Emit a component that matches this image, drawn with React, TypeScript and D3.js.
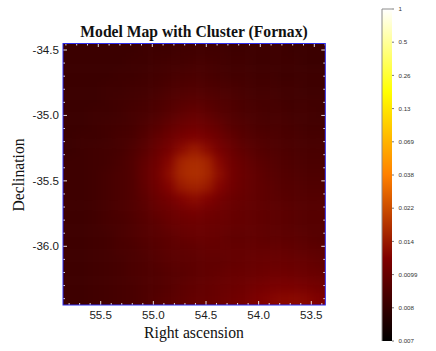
import React from "react";
import * as d3 from "d3";

// model flux x 1000, top row first, left column first
const fluxRows: number[][] = [
  [8.3, 8.3, 8.3, 8.3, 8.3, 8.3, 8.4, 8.4, 8.4, 8.5, 8.5, 8.5, 8.5, 8.4, 8.4, 8.4, 8.4, 8.4, 8.3, 8.3, 8.3],
  [8.3, 8.3, 8.3, 8.3, 8.3, 8.4, 8.4, 8.5, 8.6, 8.6, 8.7, 8.7, 8.6, 8.5, 8.5, 8.4, 8.4, 8.4, 8.4, 8.3, 8.3],
  [8.3, 8.3, 8.3, 8.3, 8.4, 8.4, 8.5, 8.6, 8.7, 8.8, 8.9, 8.8, 8.7, 8.6, 8.6, 8.5, 8.5, 8.4, 8.4, 8.4, 8.4],
  [8.3, 8.3, 8.3, 8.4, 8.4, 8.5, 8.6, 8.7, 8.9, 9.0, 9.1, 9.0, 8.9, 8.8, 8.7, 8.6, 8.6, 8.5, 8.5, 8.4, 8.4],
  [8.3, 8.3, 8.3, 8.4, 8.5, 8.6, 8.7, 8.9, 9.1, 9.3, 9.4, 9.3, 9.1, 9.0, 8.8, 8.7, 8.7, 8.6, 8.5, 8.5, 8.5],
  [8.3, 8.3, 8.4, 8.4, 8.5, 8.7, 8.8, 9.0, 9.3, 9.6, 9.8, 9.6, 9.3, 9.1, 8.9, 8.8, 8.7, 8.7, 8.6, 8.6, 8.5],
  [8.3, 8.3, 8.4, 8.5, 8.6, 8.7, 9.0, 9.3, 9.7, 10.2, 10.6, 10.2, 9.7, 9.3, 9.1, 8.9, 8.8, 8.8, 8.7, 8.6, 8.6],
  [8.3, 8.4, 8.4, 8.5, 8.7, 8.8, 9.2, 9.7, 10.4, 11.2, 11.8, 11.2, 10.4, 9.7, 9.3, 9.1, 9.0, 8.9, 8.8, 8.7, 8.7],
  [8.3, 8.4, 8.5, 8.6, 8.7, 9.0, 9.4, 10.1, 11.2, 12.8, 14.2, 12.8, 11.2, 10.2, 9.6, 9.3, 9.1, 9.0, 8.9, 8.8, 8.8],
  [8.4, 8.4, 8.5, 8.6, 8.8, 9.1, 9.7, 10.6, 12.4, 15.8, 17.0, 15.8, 12.4, 10.7, 9.9, 9.5, 9.3, 9.1, 9.0, 8.9, 8.9],
  [8.4, 8.4, 8.5, 8.7, 8.9, 9.1, 9.8, 10.9, 13.0, 16.2, 17.4, 16.2, 13.0, 11.0, 10.1, 9.7, 9.4, 9.2, 9.1, 9.0, 9.0],
  [8.4, 8.4, 8.5, 8.7, 8.9, 9.1, 9.7, 10.7, 12.2, 14.2, 15.5, 14.2, 12.2, 10.8, 10.0, 9.7, 9.5, 9.3, 9.2, 9.1, 9.1],
  [8.4, 8.4, 8.5, 8.7, 8.9, 9.1, 9.5, 10.2, 11.0, 12.0, 12.8, 12.0, 11.0, 10.3, 9.9, 9.7, 9.5, 9.4, 9.3, 9.2, 9.2],
  [8.4, 8.4, 8.5, 8.7, 8.9, 9.1, 9.4, 9.8, 10.3, 10.8, 11.2, 10.8, 10.4, 10.0, 9.8, 9.7, 9.6, 9.5, 9.4, 9.3, 9.3],
  [8.4, 8.4, 8.5, 8.7, 8.8, 9.0, 9.3, 9.5, 9.9, 10.2, 10.4, 10.3, 10.1, 9.9, 9.8, 9.7, 9.6, 9.5, 9.4, 9.3, 9.3],
  [8.4, 8.4, 8.5, 8.6, 8.8, 9.0, 9.2, 9.4, 9.6, 9.8, 10.0, 10.0, 9.9, 9.7, 9.7, 9.7, 9.6, 9.6, 9.5, 9.4, 9.3],
  [8.4, 8.4, 8.5, 8.6, 8.8, 8.9, 9.1, 9.3, 9.5, 9.6, 9.7, 9.8, 9.8, 9.8, 9.8, 9.8, 9.8, 9.8, 9.7, 9.6, 9.5],
  [8.4, 8.4, 8.5, 8.6, 8.7, 8.9, 9.0, 9.2, 9.4, 9.5, 9.6, 9.7, 9.7, 9.8, 9.9, 10.0, 10.1, 10.1, 10.0, 9.9, 9.7],
  [8.4, 8.4, 8.5, 8.6, 8.7, 8.9, 9.0, 9.1, 9.3, 9.4, 9.6, 9.7, 9.8, 10.0, 10.1, 10.3, 10.5, 10.6, 10.5, 10.3, 10.1],
  [8.4, 8.4, 8.5, 8.6, 8.7, 8.8, 9.0, 9.1, 9.3, 9.5, 9.7, 9.8, 10.0, 10.3, 10.6, 11.0, 11.3, 11.5, 11.5, 11.2, 10.8],
  [8.4, 8.4, 8.5, 8.6, 8.7, 8.8, 9.0, 9.2, 9.4, 9.6, 9.8, 9.9, 10.2, 10.6, 11.0, 11.6, 12.2, 12.6, 12.7, 12.4, 11.9],
];

const raMajor = [55.5, 55.0, 54.5, 54.0, 53.5];
const raMinor = [55.8, 55.7, 55.6, 55.4, 55.3, 55.2, 55.1, 54.9, 54.8, 54.7, 54.6, 54.4, 54.3, 54.2, 54.1, 53.9, 53.8, 53.7, 53.6, 53.4];
const decMajor = [-34.5, -35.0, -35.5, -36.0];
const decMinor = [-34.6, -34.7, -34.8, -34.9, -35.1, -35.2, -35.3, -35.4, -35.6, -35.7, -35.8, -35.9, -36.1, -36.2, -36.3, -36.4];

const barValues = [0.007, 0.008, 0.0099, 0.014, 0.022, 0.038, 0.069, 0.13, 0.26, 0.5, 1];
const barLabels = ["0.007", "0.008", "0.0099", "0.014", "0.022", "0.038", "0.069", "0.13", "0.26", "0.5", "1"];
const heatStops = [0, 0.25, 0.5, 0.75, 1];
const heatColors = ["#000000", "#800000", "#ff8000", "#ffff00", "#ffffff"];

const W = 436;
const H = 351;
const plot = { left: 63, right: 325.3, top: 43.5, bottom: 305 };
const bar = { left: 382, right: 392, top: 9, bottom: 341 };

const serif = "'Liberation Serif', serif";
const sans = "'Liberation Sans', sans-serif";

export default function App() {
  // the sky grid is slightly curved, top and bottom edge ticks do not line up
  const xBottom = d3.scaleLinear().domain([55.5, 53.5]).range([100.7, 311.3]);
  const xTop = d3.scaleLinear().domain([55.5, 53.5]).range([98.3, 314.3]);
  const y = d3.scaleLinear().domain([-34.5, -36.0]).range([50, 246.3]);

  const nCols = fluxRows[0].length;
  const nRows = fluxRows.length;
  const colScale = d3.scaleBand<number>().domain(d3.range(nCols)).range([plot.left, plot.right]);
  const rowScale = d3.scaleBand<number>().domain(d3.range(nRows)).range([plot.top, plot.bottom]);

  const position = d3
    .scaleLinear()
    .domain(barValues)
    .range(barValues.map((_, i) => i / (barValues.length - 1)))
    .clamp(true);
  const heat = d3.scaleLinear<string>().domain(heatStops).range(heatColors);
  const barY = d3.scaleLinear().domain([0, 1]).range([bar.bottom, bar.top]);

  const pad = 30; // edge cells run past the frame so the blur does not fade there

  return (
    <svg width={W} height={H} style={{ position: "absolute", left: 0, top: 0, background: "#fff" }}>
      <defs>
        <clipPath id="plot-clip">
          <rect x={plot.left} y={plot.top} width={plot.right - plot.left} height={plot.bottom - plot.top} />
        </clipPath>
        <filter id="smooth" x="-20%" y="-20%" width="140%" height="140%" colorInterpolationFilters="sRGB">
          <feGaussianBlur stdDeviation="5" />
        </filter>
        <linearGradient id="heat-bar" x1="0" y1="1" x2="0" y2="0">
          {heatStops.map((s, i) => (
            <stop key={s} offset={s} stopColor={heatColors[i]} />
          ))}
        </linearGradient>
      </defs>

      <g clipPath="url(#plot-clip)">
        <g filter="url(#smooth)">
          {fluxRows.map((row, r) =>
            row.map((v, c) => {
              const x0 = colScale(c)! - (c === 0 ? pad : 0);
              const x1 = colScale(c)! + colScale.bandwidth() + (c === nCols - 1 ? pad : 0.5);
              const y0 = rowScale(r)! - (r === 0 ? pad : 0);
              const y1 = rowScale(r)! + rowScale.bandwidth() + (r === nRows - 1 ? pad : 0.5);
              return <rect key={`${r}-${c}`} x={x0} y={y0} width={x1 - x0} height={y1 - y0} fill={heat(position(v / 1000))} />;
            })
          )}
        </g>
      </g>

      {/* ticks on all four edges */}
      <g stroke="#fff" strokeOpacity={0.85} strokeWidth={1}>
        {raMajor.map((d) => (
          <g key={d}>
            <line x1={xBottom(d)} x2={xBottom(d)} y1={plot.bottom} y2={plot.bottom - 4} />
            <line x1={xTop(d)} x2={xTop(d)} y1={plot.top} y2={plot.top + 3.5} />
          </g>
        ))}
        {raMinor.map((d) => (
          <g key={d}>
            <line x1={xBottom(d)} x2={xBottom(d)} y1={plot.bottom} y2={plot.bottom - 2} />
            <line x1={xTop(d)} x2={xTop(d)} y1={plot.top} y2={plot.top + 2} />
          </g>
        ))}
        {decMajor.map((d) => (
          <g key={d}>
            <line x1={plot.left} x2={plot.left + 4} y1={y(d)} y2={y(d)} />
            <line x1={plot.right} x2={plot.right - 4} y1={y(d)} y2={y(d)} />
          </g>
        ))}
        {decMinor.map((d) => (
          <g key={d}>
            <line x1={plot.left} x2={plot.left + 2} y1={y(d)} y2={y(d)} />
            <line x1={plot.right} x2={plot.right - 2} y1={y(d)} y2={y(d)} />
          </g>
        ))}
      </g>

      <rect
        x={plot.left}
        y={plot.top}
        width={plot.right - plot.left}
        height={plot.bottom - plot.top}
        fill="none"
        stroke="#2a2aee"
        strokeWidth={1}
      />

      <g fontFamily={sans} fontSize={11.6} fill="#1a1a1a">
        {raMajor.map((d) => (
          <text key={d} x={xBottom(d)} y={319} textAnchor="middle">
            {d.toFixed(1)}
          </text>
        ))}
        {decMajor.map((d) => (
          <text key={d} x={59} y={y(d) + 4} textAnchor="end">
            {d.toFixed(1)}
          </text>
        ))}
      </g>

      <g fontFamily={serif} fill="#111">
        <text x={194} y={37} textAnchor="middle" fontSize={15.65} fontWeight="bold">
          Model Map with Cluster (Fornax)
        </text>
        <text x={194} y={338} textAnchor="middle" fontSize={15.7}>
          Right ascension
        </text>
        <text transform="translate(24,175) rotate(-90)" textAnchor="middle" fontSize={15.7}>
          Declination
        </text>
      </g>

      {/* colour bar */}
      <rect x={bar.left} y={bar.top} width={bar.right - bar.left} height={bar.bottom - bar.top} fill="url(#heat-bar)" />
      <path
        d={`M${bar.left},${bar.bottom}V${bar.top}H${bar.right}`}
        fill="none"
        stroke="#8c8c8c"
        strokeWidth={1}
      />
      {barValues.map((v, i) => (
        <g key={v}>
          <line x1={bar.right} x2={bar.right + 2} y1={barY(position(v))} y2={barY(position(v))} stroke="#777" strokeWidth={1} />
          <text x={398.5} y={barY(position(v)) + 2.2} fontFamily={sans} fontSize={6.2} fill="#333">
            {barLabels[i]}
          </text>
        </g>
      ))}
    </svg>
  );
}
